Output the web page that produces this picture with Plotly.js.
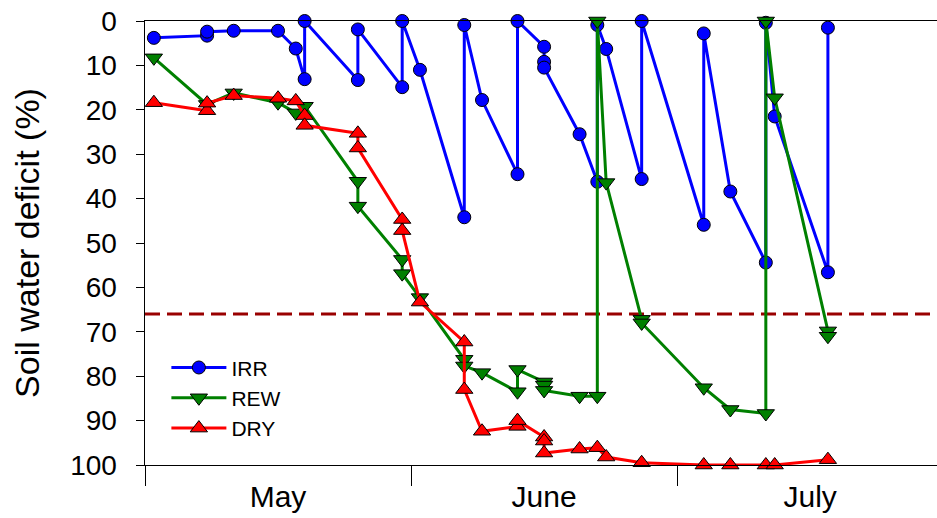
<!DOCTYPE html>
<html>
<head>
<meta charset="utf-8">
<script src="https://cdn.plot.ly/plotly-3.0.1.min.js"></script>
<style>html,body{margin:0;padding:0;background:#fff;}#chart{width:937px;height:518px;}</style>
</head>
<body>
<div id="chart"></div>
<script>
// Day of year (x) and soil water deficit % (y)
const irrDay = [121,127,127,130,135,137,138,138,144,144,149,149,151,156,156,158,162,162,165,165,165,169,171,171,172,176,176,183,183,186,190,190,191,197,197];
const irrVal = [3.8,3.3,2.4,2.2,2.2,6.2,13.1,0,13.3,1.9,14.9,0,11.0,44.2,0.9,17.8,34.5,0,5.8,9.2,10.5,25.5,36.2,0.9,6.3,35.6,0,45.9,2.8,38.4,54.4,0.4,21.5,56.6,1.5];

const rewDay = [121,127,130,135,137,138,144,144,149,149,151,156,156,158,162,162,165,165,165,169,171,171,172,176,176,183,186,190,190,191,197,197];
const rewVal = [8.3,18.8,16.2,18.4,20.7,19.2,36.1,41.7,53.7,56.9,62.3,76.2,77.7,79.2,83.5,78.5,81.3,82.0,83.2,84.5,84.5,0,36.4,67.2,68.0,82.6,87.5,88.4,0,17.3,69.8,71.0];

const dryDay = [121,127,127,130,135,137,138,138,144,144,149,149,151,156,156,158,162,162,165,165,165,169,171,172,176,183,186,190,191,197];
const dryVal = [18.4,20.2,18.5,16.8,17.4,18.0,21.3,23.5,25.3,28.6,44.7,47.2,63.3,72.3,83.0,92.4,91.3,90.0,93.7,94.6,97.3,96.4,96.1,98.2,99.5,100,100,100,100,98.8];

const threshold = 66;

const monthLabels = ['May','June','July'];
const monthCenters = [135,165,195];
const monthStarts = [120,150,180];
const yTicks = [0,10,20,30,40,50,60,70,80,90,100];

function series(name, x, y, color, symbol, size) {
  return {
    type: 'scatter', mode: 'lines+markers', name: name, x: x, y: y,
    line: {color: color, width: 3},
    marker: {color: color, symbol: symbol, size: size, line: {color: '#000', width: 1}},
    cliponaxis: false
  };
}

const data = [
  series('IRR', irrDay, irrVal, '#0000FF', 'circle', 13),
  series('REW', rewDay, rewVal, '#008000', 'triangle-down', 15),
  series('DRY', dryDay, dryVal, '#FF0000', 'triangle-up', 15)
];

const layout = {
  width: 937, height: 518,
  margin: {l: 145, r: 0, t: 21, b: 53},
  paper_bgcolor: '#fff', plot_bgcolor: '#fff',
  font: {family: 'Arial, "Liberation Sans", sans-serif', color: '#000'},
  showlegend: true,
  legend: {x: 0.027, y: 0.265, xanchor: 'left', yanchor: 'top', bgcolor: 'rgba(0,0,0,0)',
           font: {size: 21}, itemwidth: 55},
  xaxis: {
    range: [120, 209.3], showgrid: false, zeroline: false,
    showline: true, linecolor: '#000', linewidth: 1, mirror: true,
    tickmode: 'array', tickvals: monthCenters, ticktext: monthLabels, ticks: '',
    tickfont: {size: 30}, ticklabelstandoff: 5,
    minor: {tickmode: 'array', tickvals: monthStarts, ticks: 'outside', ticklen: 20,
            tickcolor: '#000', tickwidth: 1, showgrid: false}
  },
  yaxis: {
    range: [100, 0], showgrid: false, zeroline: false,
    showline: true, linecolor: '#000', linewidth: 1.5,
    tickmode: 'array', tickvals: yTicks, ticks: 'outside', ticklen: 8, tickcolor: '#000',
    tickfont: {size: 28}, ticklabelstandoff: 13,
    title: {text: 'Soil water deficit (%)', font: {size: 34}, standoff: 20}
  },
  shapes: [{type: 'line', xref: 'paper', x0: 0, x1: 1, yref: 'y', y0: threshold, y1: threshold,
            line: {color: '#990000', width: 3, dash: '15px,7px'}, layer: 'below'}]
};

Plotly.newPlot('chart', data, layout, {displayModeBar: false, staticPlot: true});
</script>
</body>
</html>
